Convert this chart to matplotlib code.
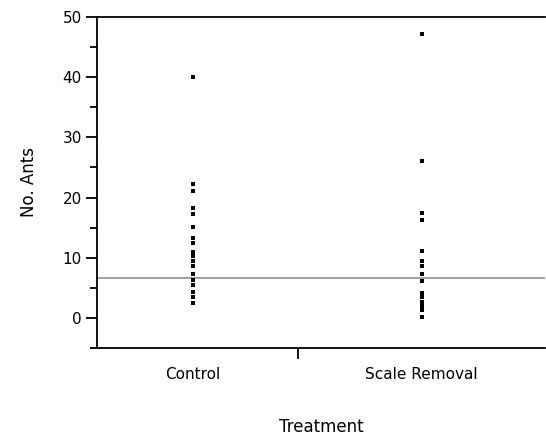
import numpy as np
import matplotlib.pyplot as plt

# data
categories = ['Control', 'Scale Removal']
control = [40, 22.2, 21.1, 18.2, 17.3, 15.1, 13.3, 12.4, 11.0, 10.3, 9.5,
           8.6, 7.3, 6.3, 5.4, 4.3, 3.4, 2.4]
scale_removal = [47.2, 26.1, 17.4, 16.3, 11.1, 9.4, 8.6, 7.3, 6.2,
                 4.2, 3.4, 2.7, 2.0, 1.3, 0.2]
grand_mean = 6.6

fig = plt.figure(figsize=(5.46, 4.36), dpi=100)
ax = fig.add_axes([0.178, 0.202, 0.82, 0.759])

for i, vals in enumerate([control, scale_removal]):
    ax.plot(np.full(len(vals), i), vals, 's', color='black',
            markersize=2.8, markeredgewidth=0)

ax.axhline(grand_mean, color='#a0a0a0', lw=1.4, zorder=0)

ax.set_xlim(-0.42, 1.54)
ax.set_ylim(-5, 50)
ax.set_yticks([0, 10, 20, 30, 40, 50])
ax.set_yticks([-5, 5, 15, 25, 35, 45], minor=True)
ax.set_xticks([0, 1])
ax.set_xticklabels(categories)
ax.set_xticks([0.46], minor=True)

ax.spines['right'].set_visible(False)
for s in ['left', 'top', 'bottom']:
    ax.spines[s].set_linewidth(1.3)

ax.tick_params(axis='y', which='major', length=8, width=1.3, labelsize=11, pad=3)
ax.tick_params(axis='y', which='minor', length=5, width=1.3)
ax.tick_params(axis='x', which='major', length=0, labelsize=11, pad=14)
ax.tick_params(axis='x', which='minor', length=8, width=1.3)

ax.set_ylabel('No. Ants', fontsize=12, labelpad=18)
ax.set_xlabel('Treatment', fontsize=12, labelpad=26)

fig.savefig('out.png', dpi=100)
